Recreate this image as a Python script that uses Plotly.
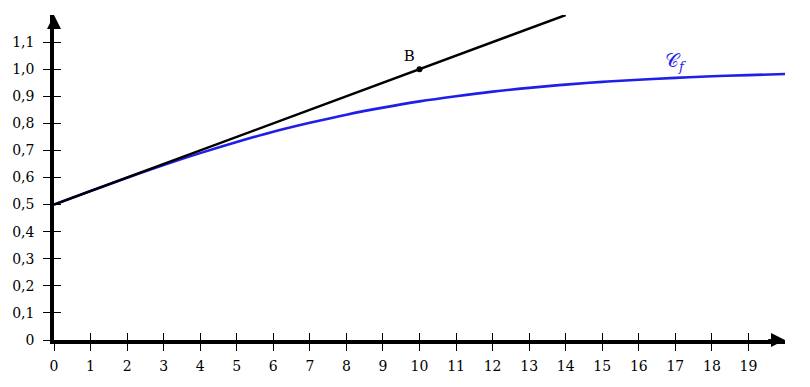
import plotly.graph_objects as go

# ---- data ----
x_ticks = list(range(0, 20))
x_labels = [str(v) for v in x_ticks]
y_ticks = [0, 0.1, 0.2, 0.3, 0.4, 0.5, 0.6, 0.7, 0.8, 0.9, 1.0, 1.1]
y_labels = ["0", "0,1", "0,2", "0,3", "0,4", "0,5", "0,6", "0,7", "0,8", "0,9", "1,0", "1,1"]

curve_x = [0, 1, 2, 3, 4, 5, 6, 7, 8, 9, 10, 11, 12, 13, 14, 15, 16, 17, 18, 19, 20]
curve_y = [0.500, 0.550, 0.599, 0.646, 0.690, 0.731, 0.769, 0.802, 0.832, 0.858,
           0.881, 0.900, 0.917, 0.931, 0.943, 0.953, 0.961, 0.968, 0.974, 0.978, 0.982]

tangent_x = [0, 14]
tangent_y = [0.5, 1.2]

point_B_x = [10]
point_B_y = [1.0]

x_max = 20
y_max = 1.2

FONT = "DejaVu Serif"
BLUE = "#1f1fe8"

fig = go.Figure()
fig.add_trace(go.Scatter(x=curve_x, y=curve_y, mode="lines", line=dict(color=BLUE, width=2.6, shape="spline"),
                         hoverinfo="skip", showlegend=False))
fig.add_trace(go.Scatter(x=tangent_x, y=tangent_y, mode="lines", line=dict(color="black", width=2.4),
                         hoverinfo="skip", showlegend=False))
fig.add_trace(go.Scatter(x=point_B_x, y=point_B_y, mode="markers+text", marker=dict(color="black", size=6),
                         text=["B"], textposition="top left", textfont=dict(family=FONT, size=15, color="black"),
                         cliponaxis=False, hoverinfo="skip", showlegend=False))

axis_common = dict(showgrid=False, zeroline=False, ticks="outside", ticklen=7, tickwidth=1.3,
                   tickcolor="black", showline=True, linecolor="black", linewidth=3.5, automargin=False,
                   tickfont=dict(family=FONT, size=14, color="black"))

# page body has an 8px margin, so the figure is sized to fit the remaining window
fig.update_layout(
    width=802, height=379,
    margin=dict(l=46, r=25, t=7, b=47),
    plot_bgcolor="white", paper_bgcolor="white",
    xaxis=dict(range=[0, x_max], tickvals=x_ticks, ticktext=x_labels, ticklabelstandoff=3, **axis_common),
    yaxis=dict(range=[0, y_max], tickvals=y_ticks, ticktext=y_labels, ticklabelstandoff=6, **axis_common),
    xaxis2=dict(range=[0, x_max], overlaying="x", side="bottom", tickvals=x_ticks, ticks="inside",
                ticklen=7, tickwidth=1.3, tickcolor="black", showticklabels=False, showgrid=False,
                zeroline=False, showline=False, automargin=False),
    yaxis2=dict(range=[0, y_max], overlaying="y", side="left", tickvals=y_ticks, ticks="inside",
                ticklen=7, tickwidth=1.3, tickcolor="black", showticklabels=False, showgrid=False,
                zeroline=False, showline=False, automargin=False),
)
# dummy trace to activate the overlay axes
fig.add_trace(go.Scatter(x=[None], y=[None], xaxis="x2", yaxis="y2", showlegend=False, hoverinfo="skip"))

# axis arrows
fig.add_annotation(x=x_max, y=0, ax=x_max - 0.5, ay=0, xref="x", yref="y", axref="x", ayref="y",
                   showarrow=True, arrowhead=2, arrowsize=1.4, arrowwidth=2, arrowcolor="black",
                   text=" ", font=dict(size=1))
fig.add_annotation(x=0, y=y_max, ax=0, ay=y_max - 0.04, xref="x", yref="y", axref="x", ayref="y",
                   showarrow=True, arrowhead=2, arrowsize=1.4, arrowwidth=2, arrowcolor="black",
                   text=" ", font=dict(size=1))

# curve label
fig.add_annotation(x=17.0, y=1.03, xref="x", yref="y", showarrow=False,
                   text="𝒞<sub><i>f</i></sub>", font=dict(family=FONT, size=19, color=BLUE))

fig.write_html("out.html")
